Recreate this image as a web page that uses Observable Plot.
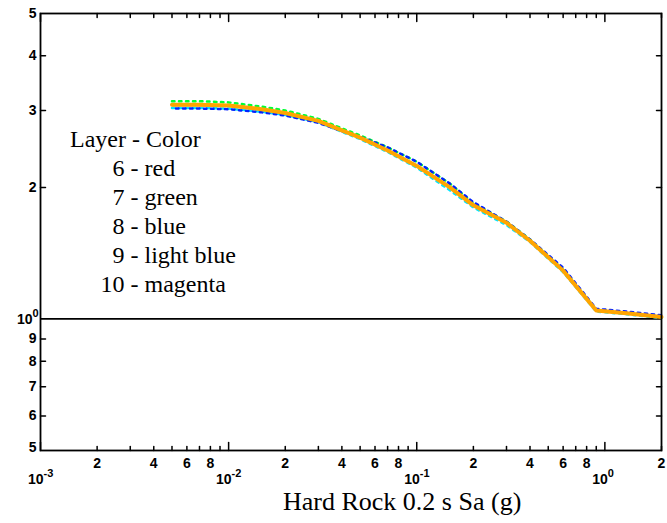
<!DOCTYPE html>
<html><head><meta charset="utf-8">
<script src="https://cdn.jsdelivr.net/npm/d3@7"></script>
<script src="https://cdn.jsdelivr.net/npm/@observablehq/plot@0.6"></script>
<style>
body{margin:0;background:#fff;}
#wrap{position:relative;width:667px;height:523px;overflow:hidden;}
.leg{position:absolute;left:70px;font-family:"Liberation Serif","Times New Roman",serif;font-size:24px;line-height:24px;white-space:pre;color:#000;}
.num{display:inline-block;width:54.5px;text-align:right;}
#title{position:absolute;left:283px;top:490px;font-family:"Liberation Serif","Times New Roman",serif;font-size:26px;line-height:24px;white-space:pre;}
</style></head><body><div id="wrap"></div>
<script>
// ---- data ----
const xs      = [0.005, 0.007, 0.01, 0.015, 0.02, 0.03, 0.04, 0.05, 0.07, 0.1, 0.15, 0.2, 0.3, 0.4, 0.6, 0.9, 1.3, 2];
const red     = [3.08, 3.08, 3.07, 3.01, 2.95, 2.83, 2.70, 2.60, 2.43, 2.24, 2.00, 1.82, 1.66, 1.51, 1.29, 1.045, 1.03, 1.01];
const green   = [3.15, 3.15, 3.13, 3.06, 3.00, 2.87, 2.73, 2.63, 2.47, 2.29, 2.04, 1.84, 1.67, 1.52, 1.30, 1.05, 1.03, 1.01];
const blue    = [3.03, 3.03, 3.02, 2.97, 2.92, 2.81, 2.69, 2.61, 2.47, 2.29, 2.04, 1.85, 1.67, 1.52, 1.31, 1.055, 1.04, 1.02];
const ltblue  = [3.04, 3.04, 3.03, 2.98, 2.93, 2.82, 2.68, 2.58, 2.41, 2.22, 1.97, 1.80, 1.64, 1.50, 1.28, 1.04, 1.025, 1.005];
const magenta = [3.09, 3.09, 3.08, 3.02, 2.96, 2.84, 2.70, 2.60, 2.43, 2.24, 2.00, 1.82, 1.66, 1.51, 1.29, 1.045, 1.03, 1.01];
const orange  = [3.09, 3.09, 3.08, 3.02, 2.96, 2.84, 2.70, 2.60, 2.43, 2.24, 2.00, 1.82, 1.66, 1.51, 1.29, 1.045, 1.03, 1.01];

const legendLayers = ["6", "7", "8", "9", "10"];
const legendColors = ["red", "green", "blue", "light blue", "magenta"];
const legendHeader = "Layer - Color";
const xTitle = "Hard Rock 0.2 s Sa (g)";

// axis ticks and labels
const xDomain = [0.001, 2];
const yDomain = [0.5, 5];
const xMajor = [0.001, 0.01, 0.1, 1];
const xMinor = [0.002,0.003,0.004,0.005,0.006,0.007,0.008,0.009,
                0.02,0.03,0.04,0.05,0.06,0.07,0.08,0.09,
                0.2,0.3,0.4,0.5,0.6,0.7,0.8,0.9,2];
const xLabelVals = [0.002,0.004,0.006,0.008,0.02,0.04,0.06,0.08,0.2,0.4,0.6,0.8,2];
const xLabelText = ["2","4","6","8","2","4","6","8","2","4","6","8","2"];
const xDecExp = ["-3","-2","-1","0"];
const yMinor = [0.6,0.7,0.8,0.9,2,3,4];
const yLabelVals = [0.6,0.7,0.8,0.9,2,3,4,5];
const yLabelText = ["6","7","8","9","2","3","4","5"];
const yBottomVal = [0.5], yBottomText = ["5"];
const yDecVals = [1], yDecExp = ["0"];

const tickShape = {draw(ctx, l){ ctx.moveTo(0,0); ctx.lineTo(0,-l); }};
const lab = {fontFamily:"'Liberation Sans Narrow','Liberation Sans',Arial,sans-serif", fontWeight:"bold", fill:"black"};

const series = (ys) => xs.map((x,i)=>({x, y: ys[i]}));
const tk = (data, opts) => Plot.vector(data, {anchor:"start", shape:tickShape, stroke:"black", strokeWidth:1.5, ...opts});

const chart = Plot.plot({
  width: 667, height: 523,
  marginLeft: 40, marginRight: 6, marginTop: 13, marginBottom: 73,
  x: {type:"log", domain:xDomain, axis:null},
  y: {type:"log", domain:yDomain, axis:null},
  marks: [
    Plot.ruleY(yDecVals, {stroke:"black", strokeWidth:1.8}),
    Plot.line(series(red), {x:"x", y:"y", stroke:"#ff0000", strokeWidth:1.5}),
    Plot.line(series(magenta), {x:"x", y:"y", stroke:"#ff00ff", strokeWidth:1.5}),
    Plot.line(series(ltblue), {x:"x", y:"y", stroke:"#00e5ff", strokeWidth:2.5, strokeDasharray:"2.5,4.5"}),
    Plot.line(series(green), {x:"x", y:"y", stroke:"#00ff33", strokeWidth:2.5, strokeDasharray:"2.5,4.5"}),
    Plot.line(series(blue), {x:"x", y:"y", stroke:"#0022ff", strokeWidth:2.5, strokeDasharray:"2.5,4.5", strokeDashoffset:3}),
    Plot.line(series(orange), {x:"x", y:"y", stroke:"#ffa500", strokeWidth:4}),
    Plot.frame({stroke:"black", strokeWidth:1.8}),
    // inward ticks
    tk(xMajor, {x:d=>d, y:yDomain[0], length:8, rotate:0}),
    tk(xMinor, {x:d=>d, y:yDomain[0], length:4, rotate:0}),
    tk(xMajor, {x:d=>d, y:yDomain[1], length:8, rotate:180}),
    tk(xMinor, {x:d=>d, y:yDomain[1], length:4, rotate:180}),
    tk(yMinor, {x:xDomain[0], y:d=>d, length:5, rotate:90}),
    tk(yMinor, {x:xDomain[1], y:d=>d, length:5, rotate:-90}),
    // x tick labels
    Plot.text(xLabelVals, {x:d=>d, y:yDomain[0], text:xLabelText, dy:13, fontSize:14, ...lab}),
    Plot.text(xMajor, {x:d=>d, y:yDomain[0], text:()=>"10", dy:29, dx:3, textAnchor:"end", fontSize:14, ...lab}),
    Plot.text(xMajor, {x:d=>d, y:yDomain[0], text:xDecExp, dy:23, dx:3, textAnchor:"start", fontSize:11, ...lab}),
    // y tick labels
    Plot.text(yLabelVals, {x:xDomain[0], y:d=>d, text:yLabelText, dx:-4, textAnchor:"end", fontSize:14, ...lab}),
    Plot.text(yBottomVal, {x:xDomain[0], y:d=>d, text:yBottomText, dx:-4, dy:-3, textAnchor:"end", fontSize:14, ...lab}),
    Plot.text(yDecVals, {x:xDomain[0], y:d=>d, text:()=>"10", dx:-8, dy:1, textAnchor:"end", fontSize:14, ...lab}),
    Plot.text(yDecVals, {x:xDomain[0], y:d=>d, text:yDecExp, dx:-8, dy:-5, textAnchor:"start", fontSize:11, ...lab})
  ]
});
const wrap = document.getElementById("wrap");
wrap.appendChild(chart);

// legend text block
const hdr = document.createElement("div");
hdr.className = "leg"; hdr.style.top = "126.6px"; hdr.textContent = legendHeader;
wrap.appendChild(hdr);
legendLayers.forEach((n,i)=>{
  const d = document.createElement("div");
  d.className = "leg"; d.style.top = (155.6 + i*29.2) + "px";
  const s = document.createElement("span"); s.className = "num"; s.textContent = n;
  d.appendChild(s);
  d.appendChild(document.createTextNode(" - " + legendColors[i]));
  wrap.appendChild(d);
});
const t = document.createElement("div"); t.id = "title"; t.textContent = xTitle;
wrap.appendChild(t);
</script>
</body></html>
